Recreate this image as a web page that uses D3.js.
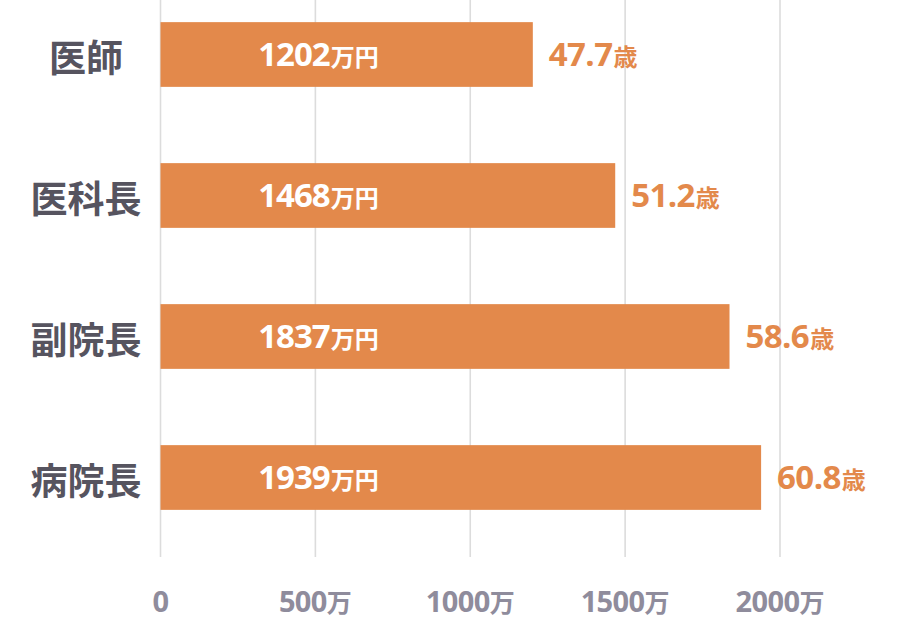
<!DOCTYPE html>
<html>
<head>
<meta charset="utf-8">
<script src="https://cdn.jsdelivr.net/npm/d3@7"></script>
<style>
  html, body { margin: 0; padding: 0; background: #fff; }
  svg { display: block; }
</style>
</head>
<body>
<svg id="chart" width="900" height="632"></svg>
<script>
const categories = ["医師", "医科長", "副院長", "病院長"];
const salaries = [1202, 1468, 1837, 1939];
const ages = [47.7, 51.2, 58.6, 60.8];
const tickValues = [0, 500, 1000, 1500, 2000];
const tickLabels = ["0", "500万", "1000万", "1500万", "2000万"];

const svg = d3.select("#chart");
const barColor = "#e3894b";
const numFont = "'Open Sans', 'Noto Sans CJK JP', sans-serif";
const cjkFont = "'Noto Sans CJK JP', sans-serif";

const x = d3.scaleLinear().domain([0, 2000]).range([160.5, 780]);
const y = d3.scaleBand().domain(categories).range([-16, 548])
  .paddingInner(0.541).paddingOuter(0.2705);

// gridlines
svg.append("g").selectAll("line").data(tickValues).join("line")
  .attr("x1", d => x(d)).attr("x2", d => x(d))
  .attr("y1", 0).attr("y2", 557)
  .attr("stroke", "#dcdcdc").attr("stroke-width", 1.6);

// tick labels
const tl = svg.append("g").selectAll("text").data(tickValues).join("text")
  .attr("x", d => x(d)).attr("y", 611.5)
  .attr("text-anchor", "middle")
  .attr("fill", "#8f8c9c")
  .attr("font-weight", 700);
tl.each(function(d, i) {
  const t = d3.select(this);
  const lab = tickLabels[i];
  const num = lab.replace("万", "");
  t.append("tspan").attr("font-family", numFont).attr("font-size", 29).attr("letter-spacing", -0.6).text(num);
  if (lab.includes("万")) t.append("tspan").attr("font-family", cjkFont).attr("font-size", 25).text("万");
});

const data = categories.map((c, i) => ({c, v: salaries[i], a: ages[i]}));

// bars
svg.append("g").selectAll("rect").data(data).join("rect")
  .attr("x", x(0)).attr("y", d => y(d.c))
  .attr("width", d => x(d.v) - x(0))
  .attr("height", y.bandwidth())
  .attr("fill", barColor);

// category labels
svg.append("g").selectAll("text").data(data).join("text")
  .attr("x", 86).attr("y", d => y(d.c) + y.bandwidth() / 2 + 1)
  .attr("text-anchor", "middle")
  .attr("dominant-baseline", "central")
  .attr("font-family", cjkFont).attr("font-size", 37).attr("font-weight", 700)
  .attr("fill", "#56545f")
  .text(d => d.c);

// salary labels inside bars
const sl = svg.append("g").selectAll("text").data(data).join("text")
  .attr("x", x(0) + 158).attr("y", d => y(d.c) + y.bandwidth() / 2 + 11)
  .attr("text-anchor", "middle")
  .attr("fill", "#ffffff").attr("font-weight", 700);
sl.append("tspan").attr("font-family", numFont).attr("font-size", 33).attr("letter-spacing", -1).text(d => d.v);
sl.append("tspan").attr("font-family", cjkFont).attr("font-size", 24).attr("dx", 1).text("万円");

// age labels
const al = svg.append("g").selectAll("text").data(data).join("text")
  .attr("x", d => x(d.v) + 16).attr("y", d => y(d.c) + y.bandwidth() / 2 + 11)
  .attr("text-anchor", "start")
  .attr("fill", barColor).attr("font-weight", 700);
al.append("tspan").attr("font-family", numFont).attr("font-size", 33).attr("letter-spacing", -0.6).text(d => d.a.toFixed(1));
al.append("tspan").attr("font-family", cjkFont).attr("font-size", 24).attr("dx", 1).text("歳");
</script>
</body>
</html>
